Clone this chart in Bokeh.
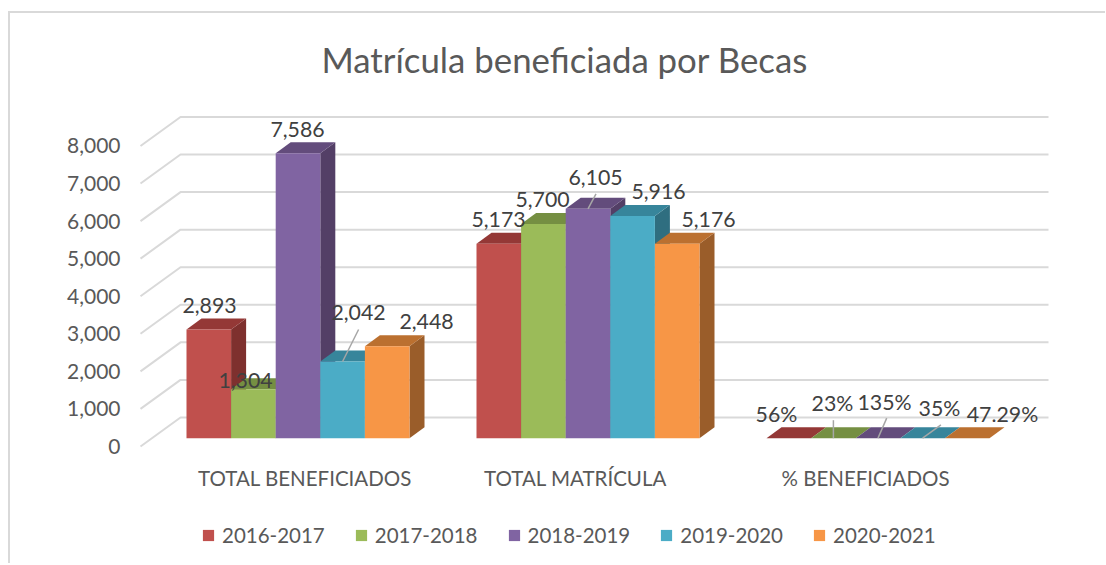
from bokeh.plotting import figure
from bokeh.models import (Range1d, FixedTicker, NumeralTickFormatter, Legend, LegendItem,
                          ColumnDataSource, Title, InlineStyleSheet)
from bokeh.core.properties import value
from bokeh.embed import file_html
from bokeh.resources import INLINE

TITLE = "Matrícula beneficiada por Becas"
CATEGORIES = ["TOTAL BENEFICIADOS", "TOTAL MATRÍCULA", "% BENEFICIADOS"]
YEARS = ["2016-2017", "2017-2018", "2018-2019", "2019-2020", "2020-2021"]
Y_TICKS = [0, 1000, 2000, 3000, 4000, 5000, 6000, 7000, 8000]

V_2016 = [2893, 5173, 0.56]
V_2017 = [1304, 5700, 0.23]
V_2018 = [7586, 6105, 1.35]
V_2019 = [2042, 5916, 0.35]
V_2020 = [2448, 5176, 0.4729]
SERIES = [V_2016, V_2017, V_2018, V_2019, V_2020]

L_2016 = ["2,893", "5,173", "56%"]
L_2017 = ["1,304", "5,700", "23%"]
L_2018 = ["7,586", "6,105", "135%"]
L_2019 = ["2,042", "5,916", "35%"]
L_2020 = ["2,448", "5,176", "47.29%"]
LABELS = [L_2016, L_2017, L_2018, L_2019, L_2020]

FRONT = ["#C0504D", "#9BBB59", "#8064A2", "#4BACC6", "#F79646"]
TOP = ["#943836", "#758F42", "#634C7C", "#37859B", "#BB7030"]
SIDE = ["#7E302E", "#5F7530", "#533F66", "#2F6E80", "#9A5D2A"]
INK = "#404040"
MUTED = "#595959"
GRID = "#D9D9D9"
FONT = "Lato"

# pixel nudges of labels from the top-centre of the bar front (series x group)
NUDGE = [
    [(0.7, -24.5), (-0.3, -24.1), (-12.3, -24.5)],
    [(-7.9, -8.5), (-0.9, -24.4), (-0.9, -35.5)],
    [(-0.5, -23.5), (7.5, -31.1), (6.5, -36.5)],
    [(15.9, -48.8), (25.9, -24.2), (16.9, -30.5)],
    [(39.3, -24.5), (31.3, -24), (35.3, -24.5)],
]
# leader lines: (series, group, dx px, dy px)
LEADERS = [(3, 0, 16, -32), (2, 1, 8, -15), (1, 2, 0, -18), (2, 2, 8.7, -20), (3, 2, 18.3, -13.3)]

# scales: 1 category = 290 px, value per px
PXX = 1 / 290
PXY = 9582 / 360
ORIGIN_X = 298.5   # page x of the first group's centre
ORIGIN_Y = 447     # page y of value 0 on the front plane


def px(x):
    return (x - ORIGIN_X) * PXX


def py(y):
    return (ORIGIN_Y - y) * PXY


BAR_W = 44.6 * PXX
DEPTH_X = 15 * PXX
DEPTH_Y = 11 * PXY
FLOOR = 8.3 * PXY
GRID_X0, GRID_X1, GRID_X2 = px(141), px(181), px(1049)
GRID_DY = 29 * PXY

p = figure(frame_width=982, frame_height=463, min_border_left=123, min_border_top=99,
           min_border_bottom=0, min_border_right=0,
           x_range=Range1d(px(124), px(1106)), y_range=Range1d(py(563), py(100)),
           output_backend="svg", toolbar_location=None, background_fill_color="white",
           border_fill_color="white", outline_line_color=None)
p.grid.visible = False

ya = p.yaxis[0]
ya.ticker = FixedTicker(ticks=Y_TICKS)
ya.formatter = NumeralTickFormatter(format="0,0")
ya.axis_line_color = None
ya.major_tick_line_color = None
ya.minor_tick_line_color = None
ya.major_tick_out = 0
ya.major_label_standoff = 3
ya.major_label_text_font = FONT
ya.major_label_text_font_size = "21px"
ya.major_label_text_color = MUTED

CAT_TICKS = [px(305.5), px(576), px(866)]
xa = p.xaxis[0]
xa.ticker = FixedTicker(ticks=CAT_TICKS)
xa.major_label_overrides = dict(zip(CAT_TICKS, CATEGORIES))
xa.fixed_location = py(460)
xa.axis_line_color = None
xa.major_tick_line_color = None
xa.minor_tick_line_color = None
xa.major_tick_out = 0
xa.major_label_standoff = 6
xa.major_label_text_font = FONT
xa.major_label_text_font_size = "20.5px"
xa.major_label_text_color = MUTED

# gridlines with the floor-to-back-wall elbow
p.multi_line(xs=[[GRID_X0, GRID_X1, GRID_X2] for _ in Y_TICKS],
             ys=[[t, t + GRID_DY, t + GRID_DY] for t in Y_TICKS],
             line_color=GRID, line_width=2)

items = []
n = len(YEARS)
for s, vals in enumerate(SERIES):
    x0 = [g - n * BAR_W / 2 + s * BAR_W for g in range(len(CATEGORIES))]
    x1 = [a + BAR_W for a in x0]
    top = [v + FLOOR for v in vals]
    base = [FLOOR] * len(vals)
    p.patches(xs=[[b, b + DEPTH_X, b + DEPTH_X, b] for b in x1],
              ys=[[f, f + DEPTH_Y, t + DEPTH_Y, t] for f, t in zip(base, top)],
              fill_color=SIDE[s], line_color=None)
    p.patches(xs=[[a, a + DEPTH_X, b + DEPTH_X, b] for a, b in zip(x0, x1)],
              ys=[[t, t + DEPTH_Y, t + DEPTH_Y, t] for t in top],
              fill_color=TOP[s], line_color=None)
    r = p.quad(left=x0, right=x1, bottom=base, top=top, fill_color=FRONT[s], line_color=None)
    items.append(LegendItem(label=YEARS[s], renderers=[r]))

# leader lines
lx, ly = [], []
for s, g, dx, dy in LEADERS:
    cx = g - n * BAR_W / 2 + (s + 0.5) * BAR_W
    t = SERIES[s][g] + FLOOR
    lx.append([cx, cx + dx * PXX])
    ly.append([t, t + (-dy) * PXY])
p.multi_line(xs=lx, ys=ly, line_color="#A6A6A6", line_width=1.5)

# data labels
src = dict(x=[], y=[], t=[], ox=[], oy=[])
for s, vals in enumerate(SERIES):
    for g, v in enumerate(vals):
        src["x"].append(g - n * BAR_W / 2 + (s + 0.5) * BAR_W)
        src["y"].append(v + FLOOR)
        src["t"].append(LABELS[s][g])
        src["ox"].append(NUDGE[s][g][0])
        src["oy"].append(NUDGE[s][g][1])
p.text(x="x", y="y", text="t", x_offset="ox", y_offset="oy", source=ColumnDataSource(src),
       text_font=value(FONT), text_font_size=value("21.3px"), text_color=INK,
       text_align="center", text_baseline="middle")

legend = Legend(items=items, orientation="horizontal", location=(78, 15), glyph_width=14,
                glyph_height=14, label_standoff=7, spacing=29, padding=0, margin=0,
                border_line_color=None, background_fill_color=None,
                label_text_font=FONT, label_text_font_size="20.5px", label_text_color=MUTED)
p.add_layout(legend, "center")

p.add_layout(Title(text=TITLE, align="left", offset=198, standoff=40, text_font=FONT,
                   text_font_size="34.8px", text_font_style="normal", text_color=MUTED), "above")

# the picture's own frame: top and left edges only
p.stylesheets = [InlineStyleSheet(css=":host::after{content:'';position:absolute;left:8px;top:11px;"
                                      "right:0;bottom:-1px;border-left:2px solid #D9D9D9;"
                                      "border-top:2px solid #D9D9D9;pointer-events:none}")]

open("out.html", "w").write(file_html(p, INLINE))
